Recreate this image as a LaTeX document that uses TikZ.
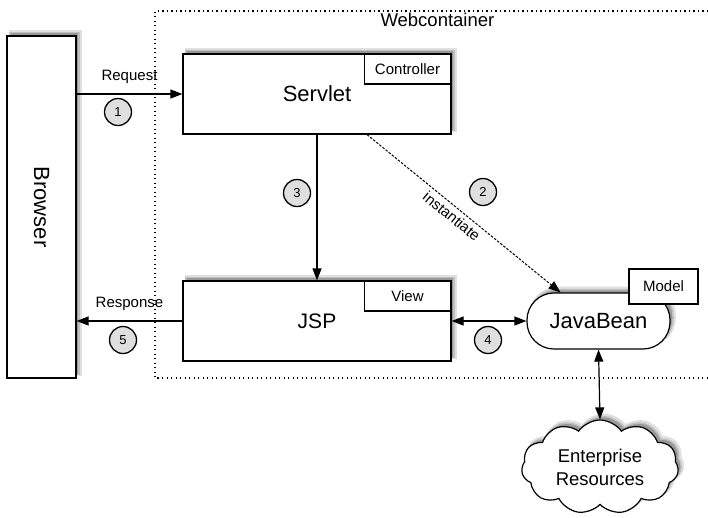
\documentclass[tikz,border=0pt]{standalone}
\usepackage{fontspec}
\setmainfont{Liberation Sans}
\usetikzlibrary{shapes.symbols,arrows.meta}

\begin{document}
\begin{tikzpicture}[x=1pt,y=-1pt]
        \tikzstyle{box} = [draw, line width=1.2pt, fill=white, inner sep=0pt,
            preaction={fill=black!12, draw=black!12, line width=4pt, transform canvas={xshift=4pt, yshift=4.5pt}},
            preaction={fill=black!40, draw=black!25, line width=1.5pt, transform canvas={xshift=3pt, yshift=3.5pt}}]
        \tikzstyle{tag} = [draw, line width=1.1pt, fill=white, inner sep=0pt, font=\fontsize{15}{17}\selectfont]
        \tikzstyle{stepmark} = [circle, draw, line width=1.3pt, fill=gray!25, minimum size=27, inner sep=0pt, font=\fontsize{13}{14}\selectfont]
        \tikzstyle{arr} = [line width=1.2pt, -{Triangle[length=12pt,width=9pt]}]
        \useasboundingbox (0,0) rectangle (708,517);
        % webcontainer frame
        \draw[line width=1.1pt, dash pattern=on 1.3pt off 3.2pt] (708,11) -- (155,11) -- (155,378) -- (708,378);
        \node[anchor=west, font=\fontsize{18.5}{20}\selectfont] (web) at (377,20) {Webcontainer};
        % boxes
        \node[box, minimum width=69, minimum height=342] (browser) at (41.5,207) {};
        \node[rotate=-90, font=\fontsize{22}{24}\selectfont] at (browser) {Browser};
        \node[box, minimum width=268, minimum height=80, font=\fontsize{22}{24}\selectfont] (servlet) at (317,94) {Servlet};
        \node[tag, minimum width=86.5, minimum height=30] (ctrl) at (407.5,69) {Controller};
        \node[box, minimum width=268, minimum height=80, font=\fontsize{21}{24}\selectfont] (jsp) at (317,321) {JSP};
        \node[tag, minimum width=86.5, minimum height=30] (view) at (407.5,296) {View};
        \node[box, rounded corners=27, minimum width=143, minimum height=56, font=\fontsize{22}{24}\selectfont] (bean) at (598.5,321) {JavaBean};
        \node[tag, minimum width=69, minimum height=35] (model) at (663.5,286.5) {Model};
        \node[box, cloud, cloud puffs=11, cloud puff arc=110, aspect=1.7, minimum width=157, minimum height=94,
            align=center, font=\fontsize{18.5}{23}\selectfont] (res) at (600,467) {Enterprise\\Resources};
        % connectors
        \draw[arr] (servlet.west -| browser.east) -- node[above=6pt, font=\fontsize{15}{17}\selectfont] {Request} (servlet.west);
        \draw[arr] (servlet) -- (jsp);
        \draw[arr, line width=1pt, dash pattern=on 2.5pt off 1.5pt] ([xshift=50]servlet.south) -- node[sloped, below=0.5pt, pos=0.47, font=\fontsize{15}{17}\selectfont] {instantiate} ([xshift=-38]bean.north);
        \draw[arr, {Triangle[length=12pt,width=9pt]}-{Triangle[length=12pt,width=9pt]}] (jsp.east) -- (bean.west);
        \draw[arr] (jsp.west) -- node[above=6pt, font=\fontsize{15}{17}\selectfont] {Response} (jsp.west -| browser.east);
        \draw[arr, {Triangle[length=12pt,width=9pt]}-{Triangle[length=12pt,width=9pt]}] (bean.south) -- (res.north);
        % step numbers
        \foreach \n/\x/\y in {1/118/112, 2/483/192, 3/297/193, 4/488/340, 5/123/340}
            \node[stepmark] (s\n) at (\x,\y) {\n};
\end{tikzpicture}
\end{document}
